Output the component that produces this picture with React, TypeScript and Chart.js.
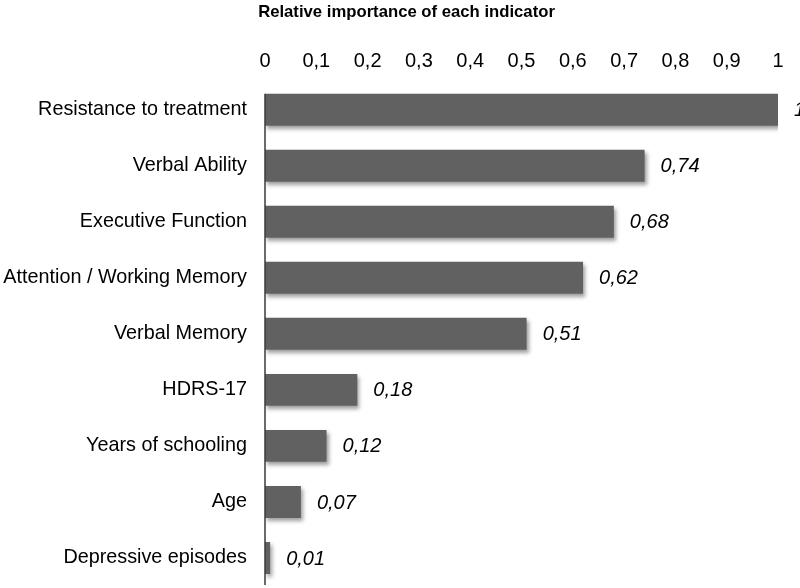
import React, { useEffect, useRef } from "react";
import { Chart, registerables } from "chart.js";

Chart.register(...registerables);

const TITLE = "Relative importance of each indicator";
const categories = [
  "Resistance to treatment",
  "Verbal Ability",
  "Executive Function",
  "Attention / Working Memory",
  "Verbal Memory",
  "HDRS-17",
  "Years of schooling",
  "Age",
  "Depressive episodes",
];
const importance = [1, 0.74, 0.68, 0.62, 0.51, 0.18, 0.12, 0.07, 0.01];
const xMin = 0;
const xMax = 1;
const xStep = 0.1;

const FONT = "'Liberation Sans', Arial, Helvetica, sans-serif";
const BAR_COLOR = "#616161";

const fmt = (v: number) => String(Math.round(v * 100) / 100).replace(".", ",");

const shadowPlugin = {
  id: "barShadow",
  afterLayout(chart: any) {
    if (chart.titleBlock) chart.titleBlock.left += 35;
  },
  beforeDatasetsDraw(chart: any) {
    const ctx = chart.ctx;
    ctx.save();
    ctx.shadowColor = "rgba(0,0,0,0.38)";
    ctx.shadowBlur = 4;
    ctx.shadowOffsetX = 2;
    ctx.shadowOffsetY = 3;
  },
  afterDatasetsDraw(chart: any) {
    chart.ctx.restore();
  },
};

const labelsPlugin = {
  id: "valueLabels",
  afterDatasetsDraw(chart: any) {
    const ctx = chart.ctx;
    const meta = chart.getDatasetMeta(0);
    ctx.save();
    ctx.font = `italic 20px ${FONT}`;
    ctx.fillStyle = "#000";
    ctx.textAlign = "left";
    ctx.textBaseline = "middle";
    meta.data.forEach((bar: any, i: number) => {
      ctx.fillText(fmt(importance[i]), bar.x + 16, bar.y + 1);
    });
    const first = meta.data[0];
    const xs = chart.scales.x;
    const x0 = xs.getPixelForValue(0);
    ctx.strokeStyle = "#3a3a3a";
    ctx.lineWidth = 1.5;
    ctx.beginPath();
    ctx.moveTo(x0, first.y - first.height / 2);
    ctx.lineTo(x0, chart.chartArea.bottom - 1);
    ctx.stroke();
    ctx.restore();
  },
};

export default function App() {
  const ref = useRef<HTMLCanvasElement | null>(null);

  useEffect(() => {
    document.body.style.margin = "0";
    if (!ref.current) return;
    const chart = new Chart(ref.current, {
      type: "bar",
      data: {
        labels: categories,
        datasets: [
          {
            data: importance,
            backgroundColor: BAR_COLOR,
            borderWidth: 0,
            barPercentage: 0.57,
            categoryPercentage: 1,
          },
        ],
      },
      options: {
        indexAxis: "y",
        responsive: false,
        animation: false,
        devicePixelRatio: 1,
        layout: { padding: { left: 0, right: 22, top: 0, bottom: 2 } },
        plugins: {
          legend: { display: false },
          tooltip: { enabled: false },
          title: {
            display: true,
            text: TITLE,
            color: "#000",
            font: { family: FONT, size: 16.7, weight: "bold" },
            padding: { top: 2, bottom: 0 },
          },
        },
        scales: {
          x: {
            position: "top",
            min: xMin,
            max: xMax,
            grid: { display: false, drawTicks: false },
            border: { display: false },
            ticks: {
              stepSize: xStep,
              color: "#000",
              font: { family: FONT, size: 20 },
              padding: 8,
              maxRotation: 0,
              autoSkip: false,
              callback: (v: any) => fmt(Number(v)),
            },
            afterFit: (scale: any) => {
              scale.height = 59.6;
            },
          },
          y: {
            grid: { display: false, drawTicks: false },
            border: { display: false },
            ticks: {
              color: "#000",
              font: { family: FONT, size: 19.8 },
              padding: 18,
              autoSkip: false,
            },
            afterFit: (scale: any) => {
              scale.width = 265;
              scale.paddingTop = 0;
              scale.paddingBottom = 0;
            },
          },
        },
      },
      plugins: [shadowPlugin, labelsPlugin],
    });
    return () => chart.destroy();
  }, []);

  return (
    <div style={{ width: 800, height: 588, background: "#fff" }}>
      <canvas ref={ref} width={800} height={588} style={{ display: "block" }} />
    </div>
  );
}
